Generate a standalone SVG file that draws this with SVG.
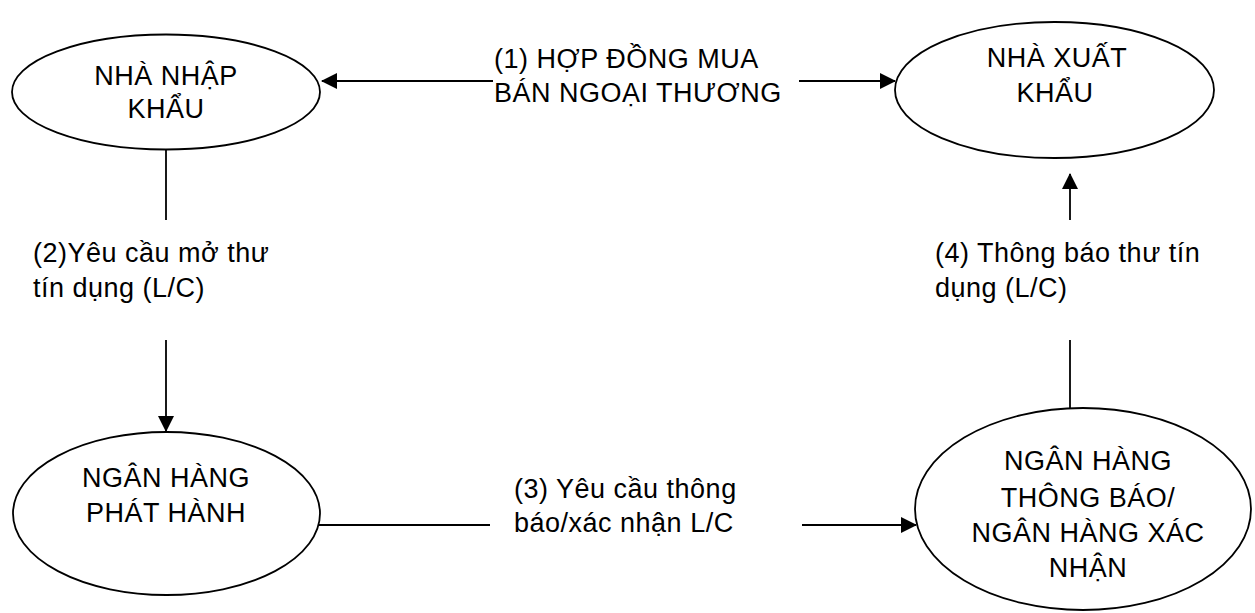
<svg xmlns="http://www.w3.org/2000/svg" width="1255" height="613" viewBox="0 0 1255 613">
  <style>
    .node { fill: #ffffff; stroke: #000000; stroke-width: 1.8; }
    .edge { fill: none; stroke: #000000; stroke-width: 1.8; }
    text { font-family: "Liberation Sans", Arial, sans-serif; font-size: 27px; letter-spacing: 0.5px; fill: #000000; }
    .c { text-anchor: middle; }
  </style>
  <defs>
    <marker id="arrow" viewBox="0 0 16 16" refX="15" refY="8" markerWidth="16" markerHeight="16" markerUnits="userSpaceOnUse" orient="auto">
      <path d="M0,0 L16,8 L0,16 Z" fill="#000000"/>
    </marker>
  </defs>

  <rect width="1255" height="613" fill="#ffffff"/>

  <!-- connectors -->
  <g id="connectors">
    <!-- (1) two-way contract between importer and exporter -->
    <line class="edge" x1="493" y1="81" x2="322" y2="81" marker-end="url(#arrow)"/>
    <line class="edge" x1="799" y1="81" x2="895" y2="81" marker-end="url(#arrow)"/>
    <text x="494" y="68">(1) HỢP ĐỒNG MUA</text>
    <text x="494" y="102">BÁN NGOẠI THƯƠNG</text>

    <!-- (2) importer to issuing bank -->
    <line class="edge" x1="166" y1="150" x2="166" y2="220"/>
    <line class="edge" x1="166" y1="340" x2="166" y2="431" marker-end="url(#arrow)"/>
    <text x="33" y="262">(2)Yêu cầu mở thư</text>
    <text x="33" y="297">tín dụng (L/C)</text>

    <!-- (3) issuing bank to advising / confirming bank -->
    <line class="edge" x1="319" y1="525" x2="490" y2="525"/>
    <line class="edge" x1="802" y1="525" x2="916" y2="525" marker-end="url(#arrow)"/>
    <text x="514" y="498">(3) Yêu cầu thông</text>
    <text x="514" y="532">báo/xác nhận L/C</text>

    <!-- (4) advising bank to exporter -->
    <line class="edge" x1="1070" y1="409" x2="1070" y2="340"/>
    <line class="edge" x1="1070" y1="220" x2="1070" y2="174" marker-end="url(#arrow)"/>
    <text x="935" y="262">(4) Thông báo thư tín</text>
    <text x="935" y="297">dụng (L/C)</text>
  </g>

  <!-- nodes -->
  <g id="importer">
    <ellipse class="node" cx="166" cy="92" rx="154" ry="57.5"/>
    <text class="c" x="166" y="85">NHÀ NHẬP</text>
    <text class="c" x="166" y="118">KHẨU</text>
  </g>

  <g id="exporter">
    <ellipse class="node" cx="1054.5" cy="90" rx="159.5" ry="68"/>
    <text class="c" x="1057" y="67">NHÀ XUẤT</text>
    <text class="c" x="1055" y="102">KHẨU</text>
  </g>

  <g id="issuing-bank">
    <ellipse class="node" cx="166.5" cy="513.5" rx="153.5" ry="81.5"/>
    <text class="c" x="166" y="487">NGÂN HÀNG</text>
    <text class="c" x="166" y="522">PHÁT HÀNH</text>
  </g>

  <g id="advising-bank">
    <ellipse class="node" cx="1083" cy="509" rx="168" ry="101"/>
    <text class="c" x="1088" y="470">NGÂN HÀNG</text>
    <text class="c" x="1088" y="507">THÔNG BÁO/</text>
    <text class="c" x="1088" y="542">NGÂN HÀNG XÁC</text>
    <text class="c" x="1088" y="577">NHẬN</text>
  </g>
</svg>
